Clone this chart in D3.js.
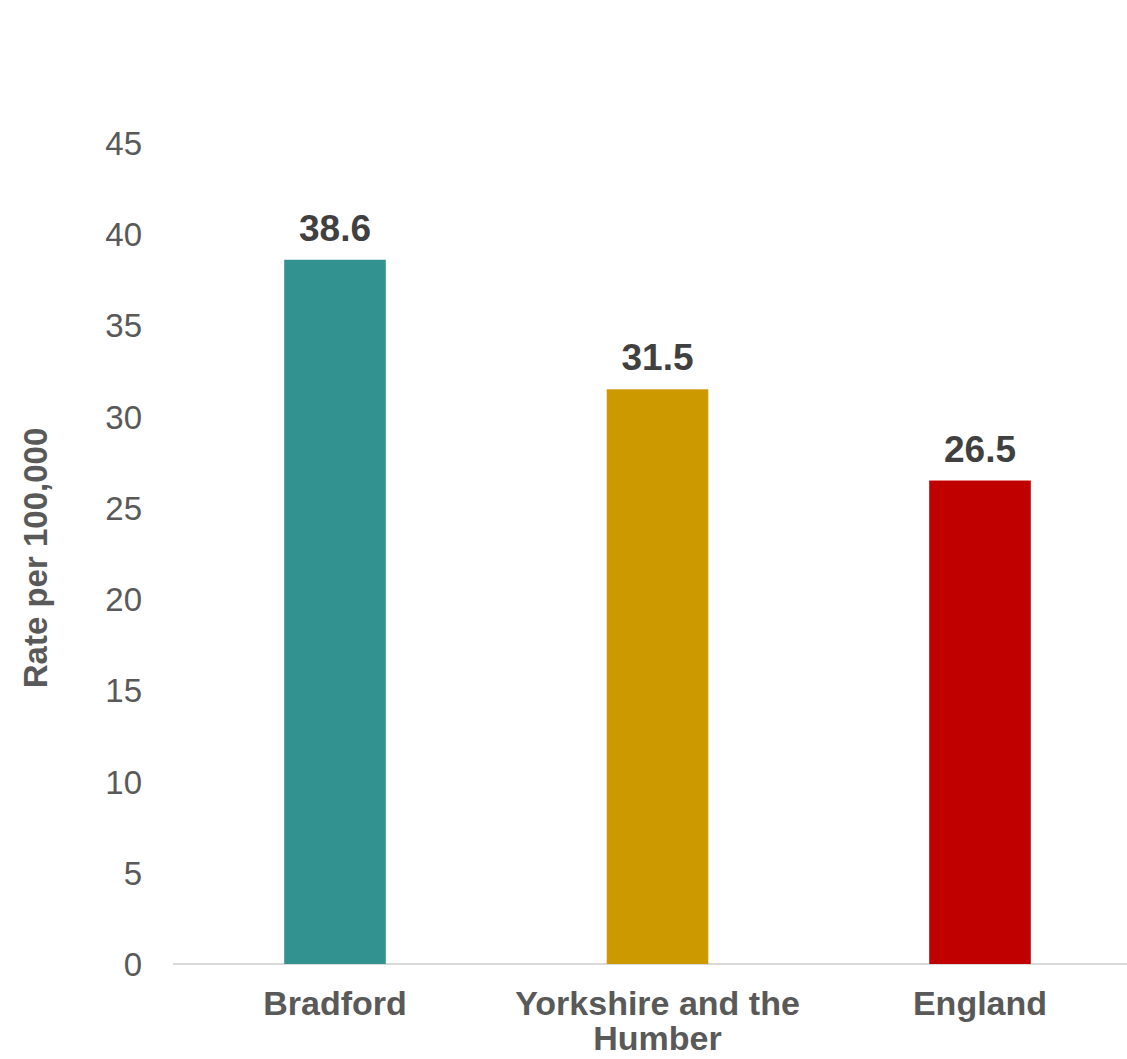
<!DOCTYPE html>
<html><head><meta charset="utf-8">
<script src="https://cdn.jsdelivr.net/npm/d3@7"></script>
<style>body{margin:0;background:#fff}svg{display:block}</style>
</head><body>
<script>
const categories = ["Bradford", "Yorkshire and the Humber", "England"];
const categoryLines = [["Bradford"], ["Yorkshire and the", "Humber"], ["England"]];
const values = [38.6, 31.5, 26.5];
const barColors = ["#31928F", "#CC9A00", "#C00000"];
const yTicks = [0, 5, 10, 15, 20, 25, 30, 35, 40, 45];
const yTitle = "Rate per 100,000";

const W = 1127, H = 1059;
const svg = d3.select("body").append("svg").attr("width", W).attr("height", H);
const font = "'Liberation Sans', Arial, sans-serif";

const x = d3.scaleBand().domain(categories).range([173.75, 1141.25]).paddingInner(0.685).paddingOuter(0.3425);
const y = d3.scaleLinear().domain([0, 45]).range([964, 143]);

// axis line
svg.append("line").attr("x1", 173).attr("x2", W).attr("y1", y(0)).attr("y2", y(0))
  .attr("stroke", "#d9d9d9").attr("stroke-width", 2);

// y tick labels
svg.selectAll(".yt").data(yTicks).enter().append("text")
  .attr("x", 142).attr("y", d => y(d) + 12)
  .attr("text-anchor", "end").attr("font-family", font).attr("font-size", 33)
  .attr("fill", "#595959").text(d => d);

// bars
svg.selectAll(".bar").data(values).enter().append("rect")
  .attr("x", (d, i) => x(categories[i]))
  .attr("width", x.bandwidth())
  .attr("y", d => y(d))
  .attr("height", d => y(0) - y(d))
  .attr("fill", (d, i) => barColors[i]);

// value labels
svg.selectAll(".vl").data(values).enter().append("text")
  .attr("x", (d, i) => x(categories[i]) + x.bandwidth() / 2)
  .attr("y", d => y(d) - 19)
  .attr("text-anchor", "middle").attr("font-family", font).attr("font-weight", "bold")
  .attr("font-size", 37).attr("fill", "#404040").text(d => d.toFixed(1));

// category labels
categories.forEach((c, i) => {
  const t = svg.append("text")
    .attr("x", x(c) + x.bandwidth() / 2).attr("y", 1015)
    .attr("text-anchor", "middle").attr("font-family", font).attr("font-weight", "bold")
    .attr("font-size", 34).attr("fill", "#595959");
  categoryLines[i].forEach((line, j) => {
    t.append("tspan").attr("x", x(c) + x.bandwidth() / 2).attr("dy", j === 0 ? 0 : 35).text(line);
  });
});

// y title
svg.append("text")
  .attr("transform", `translate(47,558) rotate(-90)`)
  .attr("text-anchor", "middle").attr("font-family", font).attr("font-weight", "bold")
  .attr("font-size", 33).attr("fill", "#595959").text(yTitle);
</script>
</body></html>
